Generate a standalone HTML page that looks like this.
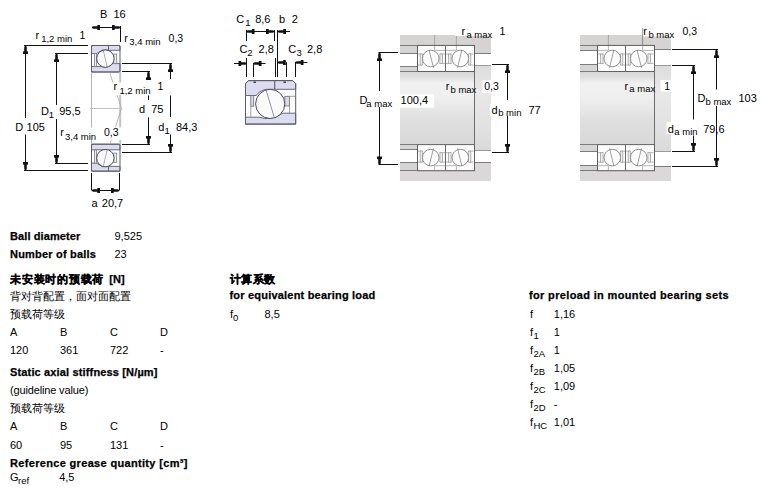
<!DOCTYPE html><html><head><meta charset="utf-8"><style>
html,body{margin:0;padding:0;background:#fff;width:766px;height:494px;overflow:hidden}
svg{position:absolute;left:0;top:0;font-family:"Liberation Sans", sans-serif}
</style></head><body>
<svg width="766" height="494" viewBox="0 0 766 494">
<defs>
<linearGradient id="shaft" x1="0" y1="0" x2="0" y2="1">
<stop offset="0" stop-color="#d6d6d6"/><stop offset="0.08" stop-color="#e0e0e0"/><stop offset="0.16" stop-color="#f1f1f1"/><stop offset="0.36" stop-color="#efefef"/><stop offset="0.5" stop-color="#e8e8e8"/><stop offset="0.66" stop-color="#dfdfdf"/><stop offset="1" stop-color="#d8d8d8"/>
</linearGradient>
<linearGradient id="shoul" x1="0" y1="0" x2="0" y2="1">
<stop offset="0" stop-color="#dcdcdc"/><stop offset="0.3" stop-color="#e8e8e8"/><stop offset="0.7" stop-color="#e2e2e2"/><stop offset="1" stop-color="#dadada"/>
</linearGradient>
</defs>

<g transform="translate(0,45.5)">
<rect x="91.5" y="0" width="28.5" height="26.5" fill="#fdfdfe"/>
<path d="M91.5 0 H108.5 V4.6 H102.5 L96.3 8.1 H91.5 Z" fill="#dcdcf1" stroke="#5c5c6c" stroke-width="0.9"/>
<path d="M108.5 0 H120 V4.8 H108.5 Z" fill="#dcdcf1" stroke="#5c5c6c" stroke-width="0.9"/>
<path d="M91.5 21.1 H102 Q108 23 112.5 18.1 H120 V26.5 H91.5 Z" fill="#dcdcf1" stroke="#5c5c6c" stroke-width="0.9"/>
<rect x="94.4" y="8.1" width="2" height="13" fill="#f0f0f4" stroke="#7c7c8a" stroke-width="0.8"/>
<rect x="113.8" y="8.6" width="2.9" height="9.5" fill="#f0f0f4" stroke="#7c7c8a" stroke-width="0.8"/>
<circle cx="105.4" cy="13.1" r="8.7" fill="#fbfbfd" stroke="#3e3e4e" stroke-width="0.9"/>
<line x1="103" y1="3.8" x2="107.3" y2="21.8" stroke="#8a8a96" stroke-width="0.7"/>
<rect x="91.5" y="0" width="28.5" height="26.5" rx="1.5" fill="none" stroke="#5c5c6c" stroke-width="1"/>
</g>
<g transform="translate(0,171.2) scale(1,-1)">
<rect x="91.5" y="0" width="28.5" height="27" fill="#fdfdfe"/>
<path d="M91.5 0 H108.5 V4.6 H102.5 L96.3 8.1 H91.5 Z" fill="#dcdcf1" stroke="#5c5c6c" stroke-width="0.9"/>
<path d="M108.5 0 H120 V4.8 H108.5 Z" fill="#dcdcf1" stroke="#5c5c6c" stroke-width="0.9"/>
<path d="M91.5 21.4 H120 V27 H91.5 Z" fill="#dcdcf1" stroke="#5c5c6c" stroke-width="0.9"/>
<rect x="94.4" y="8.1" width="2" height="13" fill="#f0f0f4" stroke="#7c7c8a" stroke-width="0.8"/>
<rect x="113.8" y="8.6" width="2.9" height="9.5" fill="#f0f0f4" stroke="#7c7c8a" stroke-width="0.8"/>
<circle cx="105.4" cy="13.1" r="8.7" fill="#fbfbfd" stroke="#3e3e4e" stroke-width="0.9"/>
<line x1="103" y1="3.8" x2="107.3" y2="21.8" stroke="#8a8a96" stroke-width="0.7"/>
<rect x="91.5" y="0" width="28.5" height="27" rx="1.5" fill="none" stroke="#5c5c6c" stroke-width="1"/>
</g>
<line x1="91.5" y1="72" x2="91.5" y2="144" stroke="#b4b4b4" stroke-width="1"/>
<line x1="120.2" y1="72" x2="120.2" y2="144" stroke="#c4c4c4" stroke-width="2"/>
<line x1="90" y1="108.5" x2="122" y2="108.5" stroke="#c4c4c4" stroke-width="1"/>
<line x1="109.5" y1="72" x2="121.5" y2="108.5" stroke="#a8a8a8" stroke-width="0.8"/>
<line x1="121.5" y1="108.5" x2="110" y2="144" stroke="#a8a8a8" stroke-width="0.8"/>
<line x1="92" y1="27.5" x2="120" y2="27.5" stroke="#111" stroke-width="1"/>
<polygon points="92.0,26.7 92.0,28.3 93.5,28.8 97.2,28.8 97.4,30.0 100.0,30.0 100.0,25.0 97.4,25.0 97.2,26.2 93.5,26.2" fill="#111"/>
<polygon points="120.0,26.7 120.0,28.3 118.5,28.8 114.8,28.8 114.6,30.0 112.0,30.0 112.0,25.0 114.6,25.0 114.8,26.2 118.5,26.2" fill="#111"/>
<line x1="120.5" y1="26" x2="120.5" y2="42" stroke="#111" stroke-width="1"/>
<text x="100" y="18" font-size="11" font-weight="normal" text-anchor="start" fill="#000" >B&#160;&#160;16</text>
<text x="35.4" y="38.6" font-size="11" font-weight="normal" text-anchor="start" fill="#000" >r</text>
<text x="41.2" y="41.8" font-size="9.5" font-weight="normal" text-anchor="start" fill="#000" >1,2 min</text>
<text x="79.6" y="38.6" font-size="10.5" font-weight="normal" text-anchor="start" fill="#000" >1</text>
<text x="124.3" y="41.5" font-size="11" font-weight="normal" text-anchor="start" fill="#000" >r</text>
<text x="129.3" y="44.7" font-size="9.5" font-weight="normal" text-anchor="start" fill="#000" >3,4 min</text>
<text x="168.6" y="42" font-size="10.5" font-weight="normal" text-anchor="start" fill="#000" >0,3</text>
<line x1="24" y1="45.5" x2="88" y2="45.5" stroke="#111" stroke-width="1"/>
<line x1="55" y1="53.5" x2="88" y2="53.5" stroke="#111" stroke-width="1"/>
<line x1="24" y1="170.5" x2="88" y2="170.5" stroke="#111" stroke-width="1"/>
<line x1="55" y1="163.5" x2="88" y2="163.5" stroke="#111" stroke-width="1"/>
<line x1="25.5" y1="46" x2="25.5" y2="118" stroke="#111" stroke-width="1"/>
<line x1="25.5" y1="134.5" x2="25.5" y2="170" stroke="#111" stroke-width="1"/>
<polygon points="24.7,46.0 26.3,46.0 26.8,47.5 26.8,51.2 28.0,51.4 28.0,54.0 23.0,54.0 23.0,51.4 24.2,51.2 24.2,47.5" fill="#111"/>
<polygon points="24.7,170.0 26.3,170.0 26.8,168.5 26.8,164.8 28.0,164.6 28.0,162.0 23.0,162.0 23.0,164.6 24.2,164.8 24.2,168.5" fill="#111"/>
<line x1="56.5" y1="54" x2="56.5" y2="105" stroke="#111" stroke-width="1"/>
<line x1="56.5" y1="119" x2="56.5" y2="163" stroke="#111" stroke-width="1"/>
<polygon points="55.7,54.0 57.3,54.0 57.8,55.5 57.8,59.2 59.0,59.4 59.0,62.0 54.0,62.0 54.0,59.4 55.2,59.2 55.2,55.5" fill="#111"/>
<polygon points="55.7,163.0 57.3,163.0 57.8,161.5 57.8,157.8 59.0,157.6 59.0,155.0 54.0,155.0 54.0,157.6 55.2,157.8 55.2,161.5" fill="#111"/>
<text x="41" y="115" font-size="11" font-weight="normal" text-anchor="start" fill="#000" >D</text>
<text x="48.8" y="117.5" font-size="9.5" font-weight="normal" text-anchor="start" fill="#000" >1</text>
<text x="59.2" y="115" font-size="11" font-weight="normal" text-anchor="start" fill="#000" >95,5</text>
<text x="15.2" y="131" font-size="11" font-weight="normal" text-anchor="start" fill="#000" >D</text>
<text x="26.6" y="131" font-size="11" font-weight="normal" text-anchor="start" fill="#000" >105</text>
<rect x="59" y="127.5" width="63" height="12.5" fill="#fff"/>
<text x="60.3" y="136.3" font-size="11" font-weight="normal" text-anchor="start" fill="#000" >r</text>
<text x="65" y="139.5" font-size="9.5" font-weight="normal" text-anchor="start" fill="#000" >3,4 min</text>
<text x="104" y="136.3" font-size="10.5" font-weight="normal" text-anchor="start" fill="#000" >0,3</text>
<line x1="122" y1="63.5" x2="172" y2="63.5" stroke="#111" stroke-width="1"/>
<line x1="122" y1="71.5" x2="150" y2="71.5" stroke="#111" stroke-width="1"/>
<line x1="122" y1="144.5" x2="150" y2="144.5" stroke="#111" stroke-width="1"/>
<line x1="122" y1="152.5" x2="172" y2="152.5" stroke="#111" stroke-width="1"/>
<line x1="148.5" y1="72" x2="148.5" y2="79" stroke="#111" stroke-width="1"/>
<line x1="148.5" y1="95.5" x2="148.5" y2="100" stroke="#111" stroke-width="1"/>
<line x1="148.5" y1="117.3" x2="148.5" y2="144" stroke="#111" stroke-width="1"/>
<polygon points="147.7,72.0 149.3,72.0 149.8,73.5 149.8,77.2 151.0,77.4 151.0,80.0 146.0,80.0 146.0,77.4 147.2,77.2 147.2,73.5" fill="#111"/>
<polygon points="147.7,144.0 149.3,144.0 149.8,142.5 149.8,138.8 151.0,138.6 151.0,136.0 146.0,136.0 146.0,138.6 147.2,138.8 147.2,142.5" fill="#111"/>
<line x1="170.5" y1="64" x2="170.5" y2="79" stroke="#111" stroke-width="1"/>
<line x1="170.5" y1="95.5" x2="170.5" y2="117" stroke="#111" stroke-width="1"/>
<line x1="170.5" y1="134.5" x2="170.5" y2="152" stroke="#111" stroke-width="1"/>
<polygon points="169.7,64.0 171.3,64.0 171.8,65.5 171.8,69.2 173.0,69.4 173.0,72.0 168.0,72.0 168.0,69.4 169.2,69.2 169.2,65.5" fill="#111"/>
<polygon points="169.7,152.0 171.3,152.0 171.8,150.5 171.8,146.8 173.0,146.6 173.0,144.0 168.0,144.0 168.0,146.6 169.2,146.8 169.2,150.5" fill="#111"/>
<rect x="112.5" y="82.5" width="38" height="12.5" fill="#fff"/>
<text x="113.4" y="90.3" font-size="11" font-weight="normal" text-anchor="start" fill="#000" >r</text>
<text x="119.4" y="93.5" font-size="9.5" font-weight="normal" text-anchor="start" fill="#000" >1,2 min</text>
<text x="157.6" y="90.3" font-size="10.5" font-weight="normal" text-anchor="start" fill="#000" >1</text>
<text x="139" y="112.8" font-size="11" font-weight="normal" text-anchor="start" fill="#000" >d&#160;&#160;75</text>
<text x="158.2" y="130.8" font-size="11" font-weight="normal" text-anchor="start" fill="#000" >d</text>
<text x="164.6" y="133.5" font-size="9.5" font-weight="normal" text-anchor="start" fill="#000" >1</text>
<text x="176" y="130.8" font-size="11" font-weight="normal" text-anchor="start" fill="#000" >84,3</text>
<line x1="91.5" y1="173" x2="91.5" y2="190.5" stroke="#111" stroke-width="1"/>
<line x1="119.5" y1="173" x2="119.5" y2="190.5" stroke="#111" stroke-width="1"/>
<line x1="92" y1="190.5" x2="119" y2="190.5" stroke="#111" stroke-width="1"/>
<polygon points="92.0,189.7 92.0,191.3 93.5,191.8 97.2,191.8 97.4,193.0 100.0,193.0 100.0,188.0 97.4,188.0 97.2,189.2 93.5,189.2" fill="#111"/>
<polygon points="119.0,189.7 119.0,191.3 117.5,191.8 113.8,191.8 113.6,193.0 111.0,193.0 111.0,188.0 113.6,188.0 113.8,189.2 117.5,189.2" fill="#111"/>
<text x="91.5" y="206.6" font-size="11" font-weight="normal" text-anchor="start" fill="#000" >a</text>
<text x="101.8" y="206.6" font-size="11" font-weight="normal" text-anchor="start" fill="#000" >20,7</text>
<path d="M245.5 124.1 V83.6 L248.5 80.6 H292.7 L295.7 83.6 V124.1 Z" fill="#fdfdfe"/>
<path d="M245.5 95.5 V83.6 L248.5 80.6 H274.8 V89.3 H266 Q259 91 256.3 95.5 Z" fill="#dcdcf1" stroke="#5a5a6a" stroke-width="0.9"/>
<path d="M274.8 89.3 V80.6 H292.7 L295.7 83.6 V89.3 Z" fill="#dcdcf1" stroke="#5a5a6a" stroke-width="0.9"/>
<path d="M245.5 117.2 H259 Q270 121.5 283 113.2 H295.7 V124.1 H245.5 Z" fill="#dcdcf1" stroke="#5a5a6a" stroke-width="0.9"/>
<rect x="250.8" y="95.5" width="2.9" height="10.7" fill="#dcdce8" stroke="#6a6a7a" stroke-width="0.8"/>
<rect x="284.8" y="96.3" width="4.7" height="9.7" fill="#dcdce8" stroke="#6a6a7a" stroke-width="0.8"/>
<line x1="250.8" y1="106" x2="250.8" y2="117.2" stroke="#8a8a96" stroke-width="0.8"/>
<line x1="289.5" y1="106" x2="289.5" y2="113.2" stroke="#8a8a96" stroke-width="0.8"/>
<line x1="289.5" y1="96.3" x2="295.7" y2="96.3" stroke="#8a8a96" stroke-width="0.8"/>
<circle cx="270.2" cy="103.9" r="14.6" fill="#fbfbfd" stroke="#3a3a4a" stroke-width="0.9"/>
<line x1="266" y1="89.8" x2="274.5" y2="118.3" stroke="#7a7a88" stroke-width="0.8"/>
<path d="M245.5 124.1 V83.6 L248.5 80.6 H292.7 L295.7 83.6 V124.1 Z" fill="none" stroke="#5a5a6a" stroke-width="1"/>
<path d="M253.5 81.5 h2.5 v1.5 h-2.5 Z M283.5 81.5 h2.5 v1.5 h-2.5 Z" fill="#444"/>
<text x="236.2" y="22.7" font-size="11" font-weight="normal" text-anchor="start" fill="#000" >C</text>
<text x="245.3" y="26" font-size="9.5" font-weight="normal" text-anchor="start" fill="#000" >1</text>
<text x="255.2" y="22.7" font-size="11" font-weight="normal" text-anchor="start" fill="#000" >8,6</text>
<text x="279" y="22.7" font-size="11" font-weight="normal" text-anchor="start" fill="#000" >b</text>
<text x="291.7" y="22.7" font-size="11" font-weight="normal" text-anchor="start" fill="#000" >2</text>
<line x1="246.5" y1="31.5" x2="274" y2="31.5" stroke="#111" stroke-width="1"/>
<polygon points="246.5,30.7 246.5,32.3 248.0,32.8 251.7,32.8 251.9,34.0 254.5,34.0 254.5,29.0 251.9,29.0 251.7,30.2 248.0,30.2" fill="#111"/>
<polygon points="274.0,30.7 274.0,32.3 272.5,32.8 268.8,32.8 268.6,34.0 266.0,34.0 266.0,29.0 268.6,29.0 268.8,30.2 272.5,30.2" fill="#111"/>
<line x1="246.5" y1="30" x2="246.5" y2="41" stroke="#111" stroke-width="1"/>
<line x1="274.5" y1="30" x2="274.5" y2="41" stroke="#111" stroke-width="1"/>
<line x1="277.5" y1="30" x2="277.5" y2="77" stroke="#111" stroke-width="1"/>
<line x1="278" y1="31.5" x2="290" y2="31.5" stroke="#111" stroke-width="1"/>
<polygon points="278.0,30.7 278.0,32.3 279.5,32.8 283.2,32.8 283.4,34.0 286.0,34.0 286.0,29.0 283.4,29.0 283.2,30.2 279.5,30.2" fill="#111"/>
<text x="239.6" y="53.2" font-size="11" font-weight="normal" text-anchor="start" fill="#000" >C</text>
<text x="247.2" y="56" font-size="9.5" font-weight="normal" text-anchor="start" fill="#000" >2</text>
<text x="258.6" y="53.2" font-size="11" font-weight="normal" text-anchor="start" fill="#000" >2,8</text>
<text x="288.3" y="52.7" font-size="11" font-weight="normal" text-anchor="start" fill="#000" >C</text>
<text x="296.4" y="55.5" font-size="9.5" font-weight="normal" text-anchor="start" fill="#000" >3</text>
<text x="307" y="52.7" font-size="11" font-weight="normal" text-anchor="start" fill="#000" >2,8</text>
<line x1="234" y1="63.5" x2="246.5" y2="63.5" stroke="#111" stroke-width="1"/>
<polygon points="246.5,62.7 246.5,64.3 245.0,64.8 241.3,64.8 241.1,66.0 238.5,66.0 238.5,61.0 241.1,61.0 241.3,62.2 245.0,62.2" fill="#111"/>
<line x1="246.5" y1="58" x2="246.5" y2="77" stroke="#111" stroke-width="1"/>
<line x1="253.5" y1="63" x2="253.5" y2="77" stroke="#111" stroke-width="1"/>
<line x1="253.5" y1="63.5" x2="265.5" y2="63.5" stroke="#111" stroke-width="1"/>
<polygon points="253.5,62.7 253.5,64.3 255.0,64.8 258.7,64.8 258.9,66.0 261.5,66.0 261.5,61.0 258.9,61.0 258.7,62.2 255.0,62.2" fill="#111"/>
<line x1="275.5" y1="58" x2="275.5" y2="77" stroke="#111" stroke-width="1"/>
<line x1="277.5" y1="62.5" x2="285" y2="62.5" stroke="#111" stroke-width="1"/>
<polygon points="277.8,61.7 277.8,63.3 279.3,63.8 283.0,63.8 283.2,65.0 285.8,65.0 285.8,60.0 283.2,60.0 283.0,61.2 279.3,61.2" fill="#111"/>
<line x1="286.5" y1="62.2" x2="286.5" y2="77" stroke="#111" stroke-width="1"/>
<line x1="295.5" y1="62.2" x2="295.5" y2="77" stroke="#111" stroke-width="1"/>
<line x1="295.3" y1="62.5" x2="307.5" y2="62.5" stroke="#111" stroke-width="1"/>
<polygon points="295.5,61.7 295.5,63.3 297.0,63.8 300.7,63.8 300.9,65.0 303.5,65.0 303.5,60.0 300.9,60.0 300.7,61.2 297.0,61.2" fill="#111"/>
<rect x="400" y="71.5" width="74" height="73" fill="url(#shaft)"/>
<rect x="474" y="65.5" width="17" height="85.0" fill="url(#shoul)"/>
<rect x="400" y="35" width="91" height="10.399999999999999" fill="#d6d3d3"/>
<rect x="474" y="35" width="17" height="18.299999999999997" fill="#d6d3d3"/>
<rect x="400" y="45.4" width="17.5" height="7.899999999999999" fill="#d4d4d4"/>
<rect x="400" y="66.5" width="17.5" height="5.0" fill="#d6d6d6"/>
<line x1="400" y1="45.5" x2="474" y2="45.5" stroke="#7c7c7c" stroke-width="1"/>
<line x1="400" y1="53.5" x2="417.5" y2="53.5" stroke="#7c7c7c" stroke-width="1"/>
<line x1="474" y1="53.5" x2="491" y2="53.5" stroke="#7c7c7c" stroke-width="1"/>
<line x1="400" y1="66.5" x2="417.5" y2="66.5" stroke="#7c7c7c" stroke-width="1"/>
<line x1="474" y1="65.5" x2="491" y2="65.5" stroke="#9a9a9a" stroke-width="1"/>
<line x1="400" y1="71.5" x2="417.5" y2="71.5" stroke="#7c7c7c" stroke-width="1"/>
<rect x="400" y="170.6" width="91" height="10.400000000000006" fill="#dad8d8"/>
<rect x="474" y="162.7" width="17" height="18.30000000000001" fill="#dad8d8"/>
<rect x="400" y="162.7" width="17.5" height="7.900000000000006" fill="#d4d4d4"/>
<rect x="400" y="144.5" width="17.5" height="5.0" fill="#d6d6d6"/>
<line x1="400" y1="170.5" x2="474" y2="170.5" stroke="#7c7c7c" stroke-width="1"/>
<line x1="400" y1="162.5" x2="417.5" y2="162.5" stroke="#7c7c7c" stroke-width="1"/>
<line x1="474" y1="162.5" x2="491" y2="162.5" stroke="#7c7c7c" stroke-width="1"/>
<line x1="400" y1="149.5" x2="417.5" y2="149.5" stroke="#7c7c7c" stroke-width="1"/>
<line x1="474" y1="150.5" x2="491" y2="150.5" stroke="#9a9a9a" stroke-width="1"/>
<line x1="400" y1="144.5" x2="417.5" y2="144.5" stroke="#7c7c7c" stroke-width="1"/>
<line x1="474.5" y1="71.5" x2="474.5" y2="144.5" stroke="#6c6c6c" stroke-width="1"/>
<rect x="417.5" y="45.4" width="56.5" height="26.1" fill="#fcfcfc"/>
<line x1="434.6" y1="35" x2="434.6" y2="45.4" stroke="#9a9a9a" stroke-width="0.8"/>
<g transform="translate(417.5,45.4)" fill="none" stroke="#a4a4a4" stroke-width="0.8">
<path d="M17.1 0 V5 H28"/>
<path d="M0 8.6 H4.9 M22.4 8.6 H28 M0 19.6 H4.9 M22.4 18 H28"/>
<rect x="2.7" y="8.6" width="2.2" height="11" fill="#eeeeee"/>
<rect x="22.4" y="8.6" width="2.6" height="9.4" fill="#eeeeee"/>
<circle cx="13.2" cy="13.1" r="8.3" fill="#fbfbfb" stroke="#868686" stroke-width="0.9"/>
<path d="M11.6 4.6 L16 22.4" stroke="#8a8a8a"/>
</g>
<line x1="456.4" y1="35" x2="456.4" y2="45.4" stroke="#9a9a9a" stroke-width="0.8"/>
<g transform="translate(445.5,45.4) translate(28,0) scale(-1,1)" fill="none" stroke="#a4a4a4" stroke-width="0.8">
<path d="M17.1 0 V5 H28"/>
<path d="M0 8.6 H4.9 M22.4 8.6 H28 M0 19.6 H4.9 M22.4 18 H28"/>
<rect x="2.7" y="8.6" width="2.2" height="11" fill="#eeeeee"/>
<rect x="22.4" y="8.6" width="2.6" height="9.4" fill="#eeeeee"/>
<circle cx="13.2" cy="13.1" r="8.3" fill="#fbfbfb" stroke="#868686" stroke-width="0.9"/>
<path d="M11.6 4.6 L16 22.4" stroke="#8a8a8a"/>
</g>
<rect x="417.5" y="45.4" width="57" height="26.1" fill="none" stroke="#606060" stroke-width="1"/>
<line x1="445.5" y1="45.4" x2="445.5" y2="71.5" stroke="#6a6a6a" stroke-width="1"/>
<rect x="417.5" y="144.6" width="56.5" height="26.1" fill="#fcfcfc"/>
<g transform="translate(417.5,144.6) translate(0,26.1) scale(1,-1)" fill="none" stroke="#a4a4a4" stroke-width="0.8">
<path d="M17.1 0 V5 H28"/>
<path d="M0 8.6 H4.9 M22.4 8.6 H28 M0 19.6 H4.9 M22.4 18 H28"/>
<rect x="2.7" y="8.6" width="2.2" height="11" fill="#eeeeee"/>
<rect x="22.4" y="8.6" width="2.6" height="9.4" fill="#eeeeee"/>
<circle cx="13.2" cy="13.1" r="8.3" fill="#fbfbfb" stroke="#868686" stroke-width="0.9"/>
<path d="M11.6 4.6 L16 22.4" stroke="#8a8a8a"/>
</g>
<g transform="translate(445.5,144.6) translate(0,26.1) scale(1,-1) translate(28,0) scale(-1,1)" fill="none" stroke="#a4a4a4" stroke-width="0.8">
<path d="M17.1 0 V5 H28"/>
<path d="M0 8.6 H4.9 M22.4 8.6 H28 M0 19.6 H4.9 M22.4 18 H28"/>
<rect x="2.7" y="8.6" width="2.2" height="11" fill="#eeeeee"/>
<rect x="22.4" y="8.6" width="2.6" height="9.4" fill="#eeeeee"/>
<circle cx="13.2" cy="13.1" r="8.3" fill="#fbfbfb" stroke="#868686" stroke-width="0.9"/>
<path d="M11.6 4.6 L16 22.4" stroke="#8a8a8a"/>
</g>
<rect x="417.5" y="144.6" width="57" height="26.1" fill="none" stroke="#606060" stroke-width="1"/>
<line x1="445.5" y1="144.6" x2="445.5" y2="170.7" stroke="#6a6a6a" stroke-width="1"/>
<rect x="580" y="71.5" width="74" height="73" fill="url(#shaft)"/>
<rect x="654" y="65" width="17" height="86" fill="url(#shoul)"/>
<rect x="580" y="35" width="91" height="10.399999999999999" fill="#d6d3d3"/>
<rect x="654" y="35" width="17" height="14.799999999999997" fill="#d6d3d3"/>
<rect x="580" y="45.4" width="17.5" height="4.899999999999999" fill="#d4d4d4"/>
<rect x="580" y="64.5" width="17.5" height="7.0" fill="#d6d6d6"/>
<line x1="580" y1="45.5" x2="654" y2="45.5" stroke="#7c7c7c" stroke-width="1"/>
<line x1="580" y1="50.5" x2="597.5" y2="50.5" stroke="#7c7c7c" stroke-width="1"/>
<line x1="654" y1="49.5" x2="671" y2="49.5" stroke="#7c7c7c" stroke-width="1"/>
<line x1="580" y1="64.5" x2="597.5" y2="64.5" stroke="#7c7c7c" stroke-width="1"/>
<line x1="654" y1="65.5" x2="671" y2="65.5" stroke="#9a9a9a" stroke-width="1"/>
<line x1="580" y1="71.5" x2="597.5" y2="71.5" stroke="#7c7c7c" stroke-width="1"/>
<rect x="580" y="170.6" width="91" height="10.400000000000006" fill="#dad8d8"/>
<rect x="654" y="166.2" width="17" height="14.800000000000011" fill="#dad8d8"/>
<rect x="580" y="165.7" width="17.5" height="4.900000000000006" fill="#d4d4d4"/>
<rect x="580" y="144.5" width="17.5" height="7.0" fill="#d6d6d6"/>
<line x1="580" y1="170.5" x2="654" y2="170.5" stroke="#7c7c7c" stroke-width="1"/>
<line x1="580" y1="165.5" x2="597.5" y2="165.5" stroke="#7c7c7c" stroke-width="1"/>
<line x1="654" y1="166.5" x2="671" y2="166.5" stroke="#7c7c7c" stroke-width="1"/>
<line x1="580" y1="151.5" x2="597.5" y2="151.5" stroke="#7c7c7c" stroke-width="1"/>
<line x1="654" y1="151.5" x2="671" y2="151.5" stroke="#9a9a9a" stroke-width="1"/>
<line x1="580" y1="144.5" x2="597.5" y2="144.5" stroke="#7c7c7c" stroke-width="1"/>
<line x1="654.5" y1="71.5" x2="654.5" y2="144.5" stroke="#6c6c6c" stroke-width="1"/>
<rect x="597.5" y="45.4" width="56.5" height="26.1" fill="#fcfcfc"/>
<line x1="608.4" y1="35" x2="608.4" y2="45.4" stroke="#9a9a9a" stroke-width="0.8"/>
<g transform="translate(597.5,45.4) translate(28,0) scale(-1,1)" fill="none" stroke="#a4a4a4" stroke-width="0.8">
<path d="M17.1 0 V5 H28"/>
<path d="M0 8.6 H4.9 M22.4 8.6 H28 M0 19.6 H4.9 M22.4 18 H28"/>
<rect x="2.7" y="8.6" width="2.2" height="11" fill="#eeeeee"/>
<rect x="22.4" y="8.6" width="2.6" height="9.4" fill="#eeeeee"/>
<circle cx="13.2" cy="13.1" r="8.3" fill="#fbfbfb" stroke="#868686" stroke-width="0.9"/>
<path d="M11.6 4.6 L16 22.4" stroke="#8a8a8a"/>
</g>
<line x1="642.6" y1="35" x2="642.6" y2="45.4" stroke="#9a9a9a" stroke-width="0.8"/>
<g transform="translate(625.5,45.4)" fill="none" stroke="#a4a4a4" stroke-width="0.8">
<path d="M17.1 0 V5 H28"/>
<path d="M0 8.6 H4.9 M22.4 8.6 H28 M0 19.6 H4.9 M22.4 18 H28"/>
<rect x="2.7" y="8.6" width="2.2" height="11" fill="#eeeeee"/>
<rect x="22.4" y="8.6" width="2.6" height="9.4" fill="#eeeeee"/>
<circle cx="13.2" cy="13.1" r="8.3" fill="#fbfbfb" stroke="#868686" stroke-width="0.9"/>
<path d="M11.6 4.6 L16 22.4" stroke="#8a8a8a"/>
</g>
<rect x="597.5" y="45.4" width="57" height="26.1" fill="none" stroke="#606060" stroke-width="1"/>
<line x1="625.5" y1="45.4" x2="625.5" y2="71.5" stroke="#6a6a6a" stroke-width="1"/>
<rect x="597.5" y="144.6" width="56.5" height="26.1" fill="#fcfcfc"/>
<g transform="translate(597.5,144.6) translate(0,26.1) scale(1,-1) translate(28,0) scale(-1,1)" fill="none" stroke="#a4a4a4" stroke-width="0.8">
<path d="M17.1 0 V5 H28"/>
<path d="M0 8.6 H4.9 M22.4 8.6 H28 M0 19.6 H4.9 M22.4 18 H28"/>
<rect x="2.7" y="8.6" width="2.2" height="11" fill="#eeeeee"/>
<rect x="22.4" y="8.6" width="2.6" height="9.4" fill="#eeeeee"/>
<circle cx="13.2" cy="13.1" r="8.3" fill="#fbfbfb" stroke="#868686" stroke-width="0.9"/>
<path d="M11.6 4.6 L16 22.4" stroke="#8a8a8a"/>
</g>
<g transform="translate(625.5,144.6) translate(0,26.1) scale(1,-1)" fill="none" stroke="#a4a4a4" stroke-width="0.8">
<path d="M17.1 0 V5 H28"/>
<path d="M0 8.6 H4.9 M22.4 8.6 H28 M0 19.6 H4.9 M22.4 18 H28"/>
<rect x="2.7" y="8.6" width="2.2" height="11" fill="#eeeeee"/>
<rect x="22.4" y="8.6" width="2.6" height="9.4" fill="#eeeeee"/>
<circle cx="13.2" cy="13.1" r="8.3" fill="#fbfbfb" stroke="#868686" stroke-width="0.9"/>
<path d="M11.6 4.6 L16 22.4" stroke="#8a8a8a"/>
</g>
<rect x="597.5" y="144.6" width="57" height="26.1" fill="none" stroke="#606060" stroke-width="1"/>
<line x1="625.5" y1="144.6" x2="625.5" y2="170.7" stroke="#6a6a6a" stroke-width="1"/>
<rect x="455" y="26" width="40" height="10" fill="#fff"/>
<text x="461.6" y="35.2" font-size="11" font-weight="normal" text-anchor="start" fill="#000" >r</text>
<text x="466.4" y="37.9" font-size="9.5" font-weight="normal" text-anchor="start" fill="#000" >a max</text>
<text x="499.4" y="35" font-size="10.5" font-weight="normal" text-anchor="start" fill="#000" >1</text>
<line x1="378.5" y1="52.5" x2="398" y2="52.5" stroke="#111" stroke-width="1"/>
<line x1="379.5" y1="53" x2="379.5" y2="91" stroke="#111" stroke-width="1"/>
<line x1="379.5" y1="107" x2="379.5" y2="164.5" stroke="#111" stroke-width="1"/>
<polygon points="378.7,53.0 380.3,53.0 380.8,54.5 380.8,58.2 382.0,58.4 382.0,61.0 377.0,61.0 377.0,58.4 378.2,58.2 378.2,54.5" fill="#111"/>
<polygon points="378.7,164.5 380.3,164.5 380.8,163.0 380.8,159.3 382.0,159.1 382.0,156.5 377.0,156.5 377.0,159.1 378.2,159.3 378.2,163.0" fill="#111"/>
<line x1="378.5" y1="164.5" x2="398" y2="164.5" stroke="#111" stroke-width="1"/>
<text x="359.5" y="104" font-size="11" font-weight="normal" text-anchor="start" fill="#000" >D</text>
<text x="366.3" y="106.5" font-size="9.5" font-weight="normal" text-anchor="start" fill="#000" >a max</text>
<rect x="398.6" y="94.3" width="35.2" height="13.4" fill="#fff"/>
<text x="400.6" y="104" font-size="11" font-weight="normal" text-anchor="start" fill="#000" >100,4</text>
<text x="445.7" y="90.2" font-size="11" font-weight="normal" text-anchor="start" fill="#000" >r</text>
<text x="450.5" y="93.1" font-size="9.5" font-weight="normal" text-anchor="start" fill="#000" >b max</text>
<rect x="482.5" y="80.5" width="18" height="12.5" fill="#fff"/>
<text x="484.2" y="90" font-size="10.5" font-weight="normal" text-anchor="start" fill="#000" >0,3</text>
<line x1="492" y1="64.5" x2="509" y2="64.5" stroke="#111" stroke-width="1"/>
<line x1="492" y1="152.5" x2="509" y2="152.5" stroke="#111" stroke-width="1"/>
<line x1="507.5" y1="65" x2="507.5" y2="100" stroke="#111" stroke-width="1"/>
<line x1="507.5" y1="115.7" x2="507.5" y2="152" stroke="#111" stroke-width="1"/>
<polygon points="506.7,65.0 508.3,65.0 508.8,66.5 508.8,70.2 510.0,70.4 510.0,73.0 505.0,73.0 505.0,70.4 506.2,70.2 506.2,66.5" fill="#111"/>
<polygon points="506.7,152.0 508.3,152.0 508.8,150.5 508.8,146.8 510.0,146.6 510.0,144.0 505.0,144.0 505.0,146.6 506.2,146.8 506.2,150.5" fill="#111"/>
<rect x="490" y="104" width="2" height="12" fill="#fff"/>
<text x="491.5" y="113.5" font-size="11" font-weight="normal" text-anchor="start" fill="#000" >d</text>
<text x="498.2" y="116.4" font-size="9.5" font-weight="normal" text-anchor="start" fill="#000" >b min</text>
<text x="528.5" y="113.5" font-size="11" font-weight="normal" text-anchor="start" fill="#000" >77</text>
<rect x="643" y="26" width="33" height="10.5" fill="#fff"/>
<line x1="642.6" y1="28" x2="642.6" y2="45.4" stroke="#8a8a8a" stroke-width="0.8"/>
<text x="643.3" y="34.6" font-size="11" font-weight="normal" text-anchor="start" fill="#000" >r</text>
<text x="648.4" y="37.6" font-size="9.5" font-weight="normal" text-anchor="start" fill="#000" >b max</text>
<text x="682.5" y="34.8" font-size="10.5" font-weight="normal" text-anchor="start" fill="#000" >0,3</text>
<text x="624.6" y="90" font-size="11" font-weight="normal" text-anchor="start" fill="#000" >r</text>
<text x="629.3" y="92" font-size="9.5" font-weight="normal" text-anchor="start" fill="#000" >a max</text>
<rect x="660.5" y="80" width="11" height="11.5" fill="#fff"/>
<text x="664.2" y="90" font-size="10.5" font-weight="normal" text-anchor="start" fill="#000" >1</text>
<line x1="672" y1="49.5" x2="718" y2="49.5" stroke="#111" stroke-width="1"/>
<line x1="672" y1="166.5" x2="718" y2="166.5" stroke="#111" stroke-width="1"/>
<line x1="716.5" y1="50" x2="716.5" y2="89.5" stroke="#111" stroke-width="1"/>
<line x1="716.5" y1="106" x2="716.5" y2="166" stroke="#111" stroke-width="1"/>
<polygon points="715.7,50.0 717.3,50.0 717.8,51.5 717.8,55.2 719.0,55.4 719.0,58.0 714.0,58.0 714.0,55.4 715.2,55.2 715.2,51.5" fill="#111"/>
<polygon points="715.7,166.0 717.3,166.0 717.8,164.5 717.8,160.8 719.0,160.6 719.0,158.0 714.0,158.0 714.0,160.6 715.2,160.8 715.2,164.5" fill="#111"/>
<line x1="672" y1="65.5" x2="695" y2="65.5" stroke="#111" stroke-width="1"/>
<line x1="672" y1="151.5" x2="695" y2="151.5" stroke="#111" stroke-width="1"/>
<line x1="693.5" y1="66" x2="693.5" y2="119.5" stroke="#111" stroke-width="1"/>
<line x1="693.5" y1="135.5" x2="693.5" y2="151" stroke="#111" stroke-width="1"/>
<polygon points="692.7,66.0 694.3,66.0 694.8,67.5 694.8,71.2 696.0,71.4 696.0,74.0 691.0,74.0 691.0,71.4 692.2,71.2 692.2,67.5" fill="#111"/>
<polygon points="692.7,151.0 694.3,151.0 694.8,149.5 694.8,145.8 696.0,145.6 696.0,143.0 691.0,143.0 691.0,145.6 692.2,145.8 692.2,149.5" fill="#111"/>
<text x="697.6" y="102.3" font-size="11" font-weight="normal" text-anchor="start" fill="#000" >D</text>
<text x="705.5" y="105" font-size="9.5" font-weight="normal" text-anchor="start" fill="#000" >b max</text>
<text x="738.5" y="102.3" font-size="11" font-weight="normal" text-anchor="start" fill="#000" >103</text>
<rect x="666.5" y="122" width="5" height="12" fill="#fff"/>
<text x="667.8" y="132.5" font-size="11" font-weight="normal" text-anchor="start" fill="#000" >d</text>
<text x="674.3" y="135" font-size="9.5" font-weight="normal" text-anchor="start" fill="#000" >a min</text>
<text x="703.2" y="132.5" font-size="11" font-weight="normal" text-anchor="start" fill="#000" >79,6</text>
<text x="10" y="240.2" font-size="11" font-weight="bold" text-anchor="start" fill="#000" letter-spacing="0.1" stroke="#000" stroke-width="0.25">Ball diameter</text>
<text x="114.5" y="240.2" font-size="11" font-weight="normal" text-anchor="start" fill="#000" >9,525</text>
<text x="10" y="258.2" font-size="11" font-weight="bold" text-anchor="start" fill="#000" letter-spacing="0.2" stroke="#000" stroke-width="0.25">Number of balls</text>
<text x="114.5" y="258.2" font-size="11" font-weight="normal" text-anchor="start" fill="#000" >23</text>
<text x="10" y="282.5" font-size="11" font-weight="bold" text-anchor="start" fill="#000" letter-spacing="0.75" stroke="#000" stroke-width="0.25">未安装时的预载荷</text>
<text x="109.3" y="282.5" font-size="11" font-weight="bold" text-anchor="start" fill="#000"  stroke="#000" stroke-width="0.25">[N]</text>
<text x="10" y="300" font-size="11" font-weight="normal" text-anchor="start" fill="#000" >背对背配置，面对面配置</text>
<text x="10" y="318" font-size="11" font-weight="normal" text-anchor="start" fill="#000" >预载荷等级</text>
<text x="10" y="335.5" font-size="11" font-weight="normal" text-anchor="start" fill="#000" >A</text>
<text x="60" y="335.5" font-size="11" font-weight="normal" text-anchor="start" fill="#000" >B</text>
<text x="110" y="335.5" font-size="11" font-weight="normal" text-anchor="start" fill="#000" >C</text>
<text x="160" y="335.5" font-size="11" font-weight="normal" text-anchor="start" fill="#000" >D</text>
<text x="10" y="353.8" font-size="11" font-weight="normal" text-anchor="start" fill="#000" >120</text>
<text x="60" y="353.8" font-size="11" font-weight="normal" text-anchor="start" fill="#000" >361</text>
<text x="110" y="353.8" font-size="11" font-weight="normal" text-anchor="start" fill="#000" >722</text>
<text x="160" y="353.8" font-size="11" font-weight="normal" text-anchor="start" fill="#000" >-</text>
<text x="10" y="376.4" font-size="11" font-weight="bold" text-anchor="start" fill="#000" letter-spacing="0.15" stroke="#000" stroke-width="0.25">Static axial stiffness [N/µm]</text>
<text x="10" y="394.2" font-size="11" font-weight="normal" text-anchor="start" fill="#000" letter-spacing="-0.15">(guideline value)</text>
<text x="10" y="412" font-size="11" font-weight="normal" text-anchor="start" fill="#000" >预载荷等级</text>
<text x="10" y="430" font-size="11" font-weight="normal" text-anchor="start" fill="#000" >A</text>
<text x="60" y="430" font-size="11" font-weight="normal" text-anchor="start" fill="#000" >B</text>
<text x="110" y="430" font-size="11" font-weight="normal" text-anchor="start" fill="#000" >C</text>
<text x="160" y="430" font-size="11" font-weight="normal" text-anchor="start" fill="#000" >D</text>
<text x="10" y="448.8" font-size="11" font-weight="normal" text-anchor="start" fill="#000" >60</text>
<text x="60" y="448.8" font-size="11" font-weight="normal" text-anchor="start" fill="#000" >95</text>
<text x="110" y="448.8" font-size="11" font-weight="normal" text-anchor="start" fill="#000" >131</text>
<text x="160" y="448.8" font-size="11" font-weight="normal" text-anchor="start" fill="#000" >-</text>
<text x="10" y="467.3" font-size="11" font-weight="bold" text-anchor="start" fill="#000" letter-spacing="0.33" stroke="#000" stroke-width="0.25">Reference grease quantity [cm³]</text>
<text x="10" y="481" font-size="11" font-weight="normal" text-anchor="start" fill="#000" >G</text>
<text x="18" y="484" font-size="9.5" font-weight="normal" text-anchor="start" fill="#000" >ref</text>
<text x="59.2" y="481" font-size="11" font-weight="normal" text-anchor="start" fill="#000" >4,5</text>
<text x="229.5" y="282.5" font-size="11" font-weight="bold" text-anchor="start" fill="#000" letter-spacing="0.6" stroke="#000" stroke-width="0.25">计算系数</text>
<text x="229.5" y="299.4" font-size="11" font-weight="bold" text-anchor="start" fill="#000" letter-spacing="0.2" stroke="#000" stroke-width="0.25">for equivalent bearing load</text>
<text x="230" y="318" font-size="11" font-weight="normal" text-anchor="start" fill="#000" >f</text>
<text x="233" y="321" font-size="9.5" font-weight="normal" text-anchor="start" fill="#000" >0</text>
<text x="264.5" y="318" font-size="11" font-weight="normal" text-anchor="start" fill="#000" >8,5</text>
<text x="529" y="299.4" font-size="11" font-weight="bold" text-anchor="start" fill="#000" letter-spacing="0.35" stroke="#000" stroke-width="0.25">for preload in mounted bearing sets</text>
<text x="530" y="318" font-size="11" font-weight="normal" text-anchor="start" fill="#000" >f</text>
<text x="553.8" y="318" font-size="11" font-weight="normal" text-anchor="start" fill="#000" >1,16</text>
<text x="530" y="336" font-size="11" font-weight="normal" text-anchor="start" fill="#000" >f</text>
<text x="533.5" y="339" font-size="9.5" font-weight="normal" text-anchor="start" fill="#000" >1</text>
<text x="553.8" y="336" font-size="11" font-weight="normal" text-anchor="start" fill="#000" >1</text>
<text x="530" y="354" font-size="11" font-weight="normal" text-anchor="start" fill="#000" >f</text>
<text x="533.5" y="357" font-size="9.5" font-weight="normal" text-anchor="start" fill="#000" >2A</text>
<text x="553.8" y="354" font-size="11" font-weight="normal" text-anchor="start" fill="#000" >1</text>
<text x="530" y="372" font-size="11" font-weight="normal" text-anchor="start" fill="#000" >f</text>
<text x="533.5" y="375" font-size="9.5" font-weight="normal" text-anchor="start" fill="#000" >2B</text>
<text x="553.8" y="372" font-size="11" font-weight="normal" text-anchor="start" fill="#000" >1,05</text>
<text x="530" y="390" font-size="11" font-weight="normal" text-anchor="start" fill="#000" >f</text>
<text x="533.5" y="393" font-size="9.5" font-weight="normal" text-anchor="start" fill="#000" >2C</text>
<text x="553.8" y="390" font-size="11" font-weight="normal" text-anchor="start" fill="#000" >1,09</text>
<text x="530" y="408" font-size="11" font-weight="normal" text-anchor="start" fill="#000" >f</text>
<text x="533.5" y="411" font-size="9.5" font-weight="normal" text-anchor="start" fill="#000" >2D</text>
<text x="553.8" y="408" font-size="11" font-weight="normal" text-anchor="start" fill="#000" >-</text>
<text x="530" y="426" font-size="11" font-weight="normal" text-anchor="start" fill="#000" >f</text>
<text x="533.5" y="429" font-size="9.5" font-weight="normal" text-anchor="start" fill="#000" >HC</text>
<text x="553.8" y="426" font-size="11" font-weight="normal" text-anchor="start" fill="#000" >1,01</text>
</svg></body></html>
